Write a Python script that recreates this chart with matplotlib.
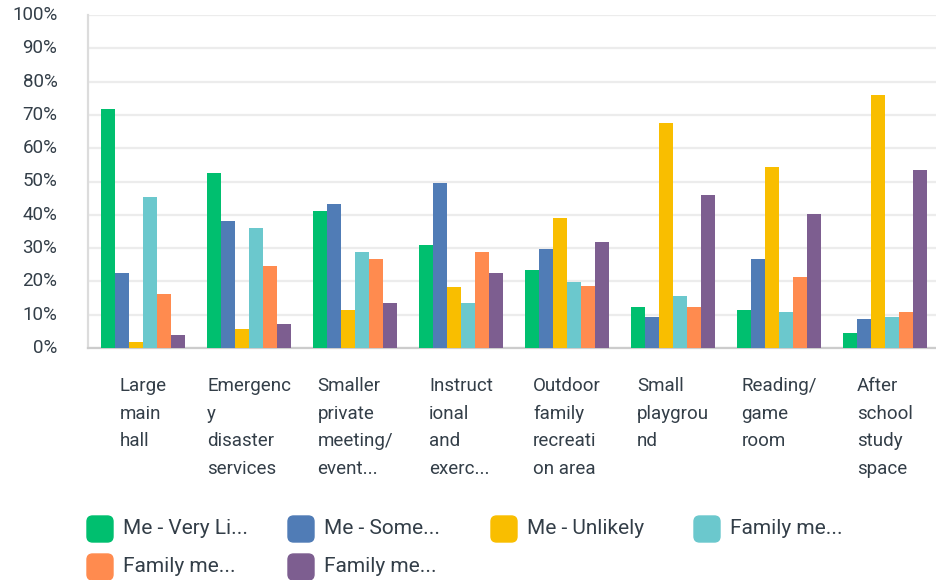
import matplotlib
matplotlib.use("Agg")
import matplotlib.pyplot as plt
import numpy as np
from matplotlib.patches import FancyBboxPatch
from matplotlib.ticker import PercentFormatter

plt.rcParams['font.family'] = ['Roboto', 'DejaVu Sans']

categories = ["Large\nmain\nhall", "Emergenc\ny\ndisaster\nservices",
              "Smaller\nprivate\nmeeting/\nevent...", "Instruct\nional\nand\nexerc...",
              "Outdoor\nfamily\nrecreati\non area", "Small\nplaygrou\nnd",
              "Reading/\ngame\nroom", "After\nschool\nstudy\nspace"]

series_names = ["Me - Very Li...", "Me - Some...", "Me - Unlikely",
                "Family me...", "Family me...", "Family me..."]

me_very_likely = [71.9, 52.7, 41.1, 30.9, 23.3, 12.2, 11.3, 4.4]
me_somewhat = [22.6, 38.1, 43.2, 49.5, 29.7, 9.2, 26.7, 8.6]
me_unlikely = [1.7, 5.8, 11.3, 18.2, 39.0, 67.5, 54.3, 76.0]
family_very_likely = [45.2, 35.9, 28.8, 13.4, 19.7, 15.5, 10.7, 9.2]
family_somewhat = [16.3, 24.5, 26.7, 28.8, 18.5, 12.2, 21.2, 10.7]
family_unlikely = [3.8, 7.1, 13.4, 22.4, 31.8, 45.9, 40.2, 53.4]

colors = ["#00BF6F", "#507CB6", "#F9BE00", "#6BC8CD", "#FF8B4F", "#7D5E90"]

series = [me_very_likely, me_somewhat, me_unlikely,
          family_very_likely, family_somewhat, family_unlikely]

fig = plt.figure(figsize=(9.36, 5.8), dpi=100)
ax = fig.add_axes([88 / 936, 1 - 348 / 580, 848 / 936, 333 / 580])

x = np.arange(len(categories)) + 0.02
w = 0.132
for j, vals in enumerate(series):
    ax.bar(x + (j - 2.5) * w, vals, width=w, color=colors[j], zorder=3)

ax.set_xlim(-0.5, len(categories) - 0.5)
ax.set_ylim(0, 100)
ax.set_yticks(range(0, 101, 10))
ax.yaxis.set_major_formatter(PercentFormatter(decimals=0))
ax.grid(axis='y', color='#ececec', lw=1.6, zorder=0)
for s in ['top', 'right']:
    ax.spines[s].set_visible(False)
ax.spines['left'].set_color('#dcdcdc')
ax.spines['left'].set_linewidth(1.6)
ax.spines['bottom'].set_color('#cccccc')
ax.spines['bottom'].set_linewidth(1.6)

ax.set_xticks(x)
ax.set_xticklabels(categories, multialignment='left', linespacing=1.68,
                   fontsize=13.5, color='#333e48')
ax.tick_params(axis='x', length=0, pad=21)
ax.tick_params(axis='y', length=0, pad=22, labelsize=13.5, labelcolor='#333e48')
for t in ax.get_yticklabels():
    t.set_verticalalignment('center')

# legend drawn by hand: 4 columns, 2 rows
col_x = [87, 288, 491, 694]
row_y = [529, 567]
for k, name in enumerate(series_names):
    cx = col_x[k % 4]
    cy = row_y[k // 4]
    box = FancyBboxPatch(((cx) / 936, 1 - (cy + 13) / 580), 26 / 936, 26 / 580,
                         boxstyle="round,pad=0,rounding_size=0.006",
                         transform=fig.transFigure, color=colors[k],
                         mutation_aspect=936 / 580)
    fig.add_artist(box)
    fig.text((cx + 36) / 936, 1 - cy / 580, name, fontsize=15,
             color='#333e48', va='center', ha='left')

fig.savefig("out.png", dpi=100)
